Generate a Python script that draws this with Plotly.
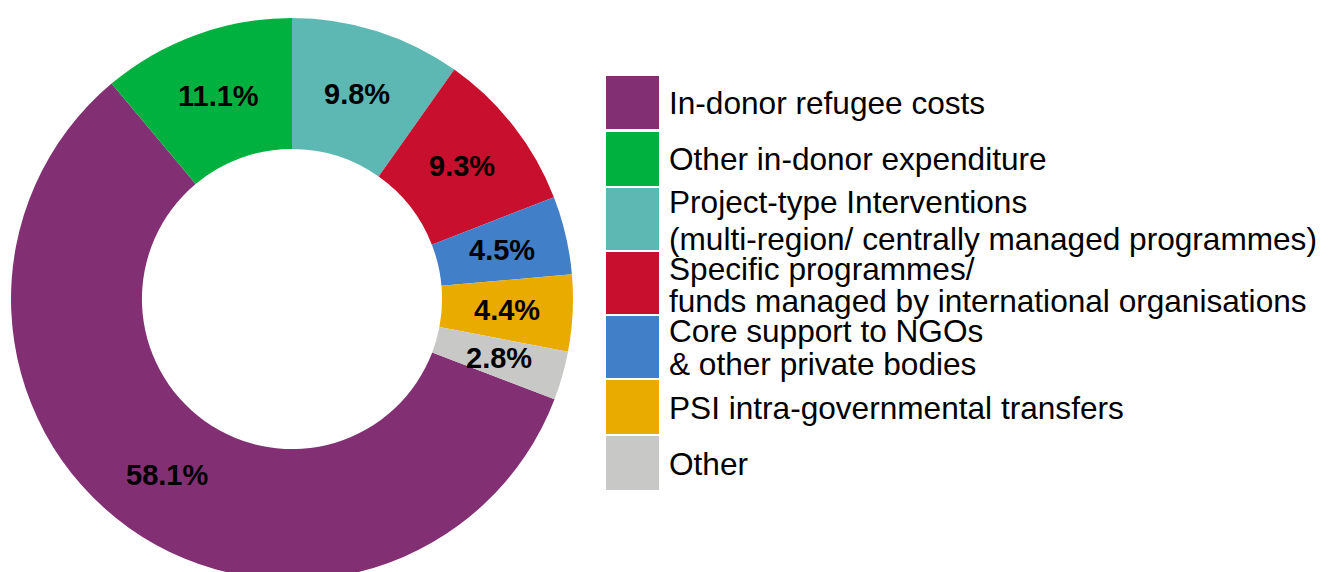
import math
import plotly.graph_objects as go

# ---- data ----
labels = [
    "In-donor refugee costs",
    "Other in-donor expenditure",
    "Project-type Interventions<br>(multi-region/ centrally managed programmes)",
    "Specific programmes/<br>funds managed by international organisations",
    "Core support to NGOs<br>& other private bodies",
    "PSI intra-governmental transfers",
    "Other",
]
values = [58.1, 11.1, 9.8, 9.3, 4.5, 4.4, 2.8]
colors = ["#823073", "#00B140", "#5DB8B3", "#C8102E", "#417FC8", "#EAAB00", "#C8C8C6"]

# ---- layout constants ----
W, H = 1329, 572
OFF = 8            # page body margin offset (px)
MT, MB = 10, 0
HOLE = 0.534
PIE_CX = 284       # px inside the figure
DOM_X1 = 2 * PIE_CX / W
plot_h = H - MT - MB


def sx(px):
    """screen x px -> paper x"""
    return (px - OFF) / W


def sy(py):
    """screen y px -> paper y"""
    return 1 - (py - OFF - MT) / plot_h


# clockwise start angle of the first slice, from 12 o'clock
start_frac = sum(values[2:]) / sum(values)
rotation = start_frac * 360.0

fig = go.Figure()
fig.add_trace(go.Pie(
    labels=labels,
    values=values,
    marker=dict(colors=colors, line=dict(width=0)),
    hole=HOLE,
    sort=False,
    direction="clockwise",
    rotation=rotation,
    textinfo="none",
    hoverinfo="label+percent",
    showlegend=False,
    domain=dict(x=[0, DOM_X1], y=[0, 1]),
))

# percent labels at the middle of the ring, on each slice's mid-angle
R = min(DOM_X1 * W, plot_h) / 2
cx_scr = PIE_CX + OFF
cy_scr = MT + plot_h / 2 + OFF
r_lab = R * (1 + HOLE) / 2
total = sum(values)
cum = start_frac
annotations = []
for v in values:
    mid = (cum + v / total / 2) * 2 * math.pi
    cum += v / total
    px = cx_scr + r_lab * math.sin(mid)
    py = cy_scr - r_lab * math.cos(mid)
    annotations.append(dict(
        x=sx(px), y=sy(py), xref="paper", yref="paper",
        text=f"<b>{v:.1f}%</b>", showarrow=False, xanchor="center", yanchor="middle",
        font=dict(family="Liberation Sans, Arial, sans-serif", size=29, color="#000000"),
    ))

# custom legend: big colour squares + text lines (screen px)
box_x0, box_x1 = 606, 659
box_y = [(76, 129), (132, 186), (188, 250), (252, 314), (316, 378), (380, 434), (436, 490)]
line_y = [[103], [159], [202, 239], [269, 301], [331, 364], [408], [464]]
shapes = []
for lab, col, (y0, y1), ys in zip(labels, colors, box_y, line_y):
    shapes.append(dict(
        type="rect", xref="paper", yref="paper",
        x0=sx(box_x0), x1=sx(box_x1),
        y0=sy(y1), y1=sy(y0),
        fillcolor=col, line=dict(width=0), layer="above",
    ))
    for part, ty in zip(lab.split("<br>"), ys):
        annotations.append(dict(
            x=sx(667), y=sy(ty), xref="paper", yref="paper",
            text=part, showarrow=False, xanchor="left", yanchor="middle",
            font=dict(family="Liberation Sans, Arial, sans-serif", size=31.6, color="#000000"),
        ))

fig.update_layout(
    width=W, height=H,
    margin=dict(l=0, r=0, t=MT, b=MB, pad=0),
    paper_bgcolor="white", plot_bgcolor="white",
    shapes=shapes, annotations=annotations,
)

fig.write_html("out.html")
